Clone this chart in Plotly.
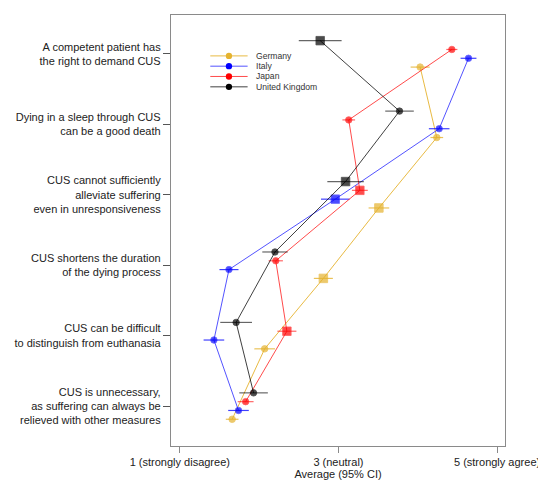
import plotly.graph_objects as go

categories = [
    "A competent patient has<br>the right to demand CUS",
    "Dying in a sleep through CUS<br>can be a good death",
    "CUS cannot sufficiently<br>alleviate suffering<br>even in unresponsiveness",
    "CUS shortens the duration<br>of the dying process",
    "CUS can be difficult<br>to distinguish from euthanasia",
    "CUS is unnecessary,<br>as suffering can always be<br>relieved with other measures",
]

countries = ["Germany", "Italy", "Japan", "United Kingdom"]

germany_mean = [4.03, 4.24, 3.51, 2.81, 2.07, 1.66]
germany_ci = [0.12, 0.08, 0.13, 0.12, 0.13, 0.08]
germany_sig = [0, 0, 1, 1, 0, 0]

italy_mean = [4.64, 4.27, 2.96, 1.62, 1.43, 1.74]
italy_ci = [0.10, 0.13, 0.18, 0.12, 0.13, 0.13]
italy_sig = [0, 0, 1, 0, 0, 0]

japan_mean = [4.43, 3.13, 3.27, 2.21, 2.35, 1.83]
japan_ci = [0.07, 0.08, 0.10, 0.09, 0.12, 0.10]
japan_sig = [0, 0, 1, 0, 1, 0]

uk_mean = [2.77, 3.77, 3.09, 2.20, 1.71, 1.93]
uk_ci = [0.27, 0.18, 0.23, 0.16, 0.20, 0.18]
uk_sig = [1, 0, 1, 0, 0, 0]

x_tickvals = [1, 3, 5]
x_ticktext = ["1 (strongly disagree)", "3 (neutral)", "5 (strongly agree)"]

series = {
    "Germany": (germany_mean, germany_ci, germany_sig),
    "Italy": (italy_mean, italy_ci, italy_sig),
    "Japan": (japan_mean, japan_ci, japan_sig),
    "United Kingdom": (uk_mean, uk_ci, uk_sig),
}

colors = {
    "Germany": "#E5B32F",
    "Italy": "#0000FF",
    "Japan": "#FF0000",
    "United Kingdom": "#000000",
}
err_colors = {
    "Germany": "rgba(229,179,47,0.8)",
    "Italy": "rgba(0,0,255,0.75)",
    "Japan": "rgba(255,0,0,0.6)",
    "United Kingdom": "rgba(0,0,0,0.6)",
}
line_colors = {
    "Germany": "rgba(229,179,47,0.9)",
    "Italy": "rgba(40,40,255,0.8)",
    "Japan": "rgba(255,30,30,0.8)",
    "United Kingdom": "rgba(0,0,0,0.75)",
}
offsets = {"United Kingdom": -0.1875, "Japan": -0.0625, "Italy": 0.0625, "Germany": 0.1875}

fig = go.Figure()
draw_order = ["Germany", "Italy", "Japan", "United Kingdom"]
for c in draw_order:
    mean, ci, sig = series[c]
    ys = [i + offsets[c] for i in range(len(categories))]
    fig.add_trace(go.Scatter(
        x=mean, y=ys, mode="lines+markers", name=c, showlegend=False,
        line=dict(color=line_colors[c], width=1),
        marker=dict(color=colors[c],
                    symbol=["square" if s else "circle" for s in sig],
                    size=[8.5 if s else 6.5 for s in sig]),
        error_x=dict(type="data", array=ci, visible=True, thickness=1.2,
                     width=0, color=err_colors[c]),
    ))

# The page body has an 8px margin, so the figure is drawn 8px right/down.
OFF = 8
W, H = 546 - OFF, 488 - OFF
# Plot-area geometry (screen pixels in the reference, shifted into figure coords)
L, R, T, B = 168 - OFF, 508 - OFF, 14 - OFF, 446 - OFF

def px(xs):
    return (xs - OFF - L) / (R - L)

def py(ys):
    return 1 - (ys - OFF - T) / (B - T)

shapes = []
annotations = []
legend_rows = [55, 65.3, 75.6, 86]
for c, yr in zip(countries, legend_rows):
    shapes.append(dict(type="line", xref="paper", yref="paper",
                       x0=px(208), x1=px(246), y0=py(yr), y1=py(yr),
                       line=dict(color=line_colors[c], width=1)))
    r = 3.2
    shapes.append(dict(type="circle", xref="paper", yref="paper",
                       x0=px(227 - r), x1=px(227 + r), y0=py(yr + r), y1=py(yr - r),
                       fillcolor=colors[c], line=dict(color=colors[c], width=0)))
    annotations.append(dict(x=px(252), y=py(yr), xref="paper", yref="paper",
                            text=c, showarrow=False, xanchor="left", yanchor="middle",
                            font=dict(size=8.6, color="#333333")))

fig.update_layout(
    width=W, height=H,
    margin=dict(l=L, r=W - R, t=T, b=H - B),
    plot_bgcolor="white", paper_bgcolor="white",
    font=dict(family="Liberation Sans, Arial, sans-serif", size=11, color="#222222"),
    shapes=shapes, annotations=annotations,
    showlegend=False,
)
fig.update_xaxes(
    range=[0.889, 5.1], tickvals=x_tickvals, ticktext=x_ticktext,
    showgrid=False, zeroline=False, showline=True, mirror=True,
    linecolor="#8a8a8a", linewidth=1.3, ticks="outside", ticklen=6,
    tickcolor="#8a8a8a", tickfont=dict(size=11),
    title=dict(text="Average (95% CI)", font=dict(size=11), standoff=1),
)
fig.update_yaxes(
    range=[5.567, -0.552], tickvals=list(range(len(categories))), ticktext=categories,
    showgrid=False, zeroline=False, showline=True, mirror=True,
    linecolor="#8a8a8a", linewidth=1.3, ticks="outside", ticklen=7,
    tickcolor="#555555", tickfont=dict(size=11),
)

fig.write_html("out.html")
